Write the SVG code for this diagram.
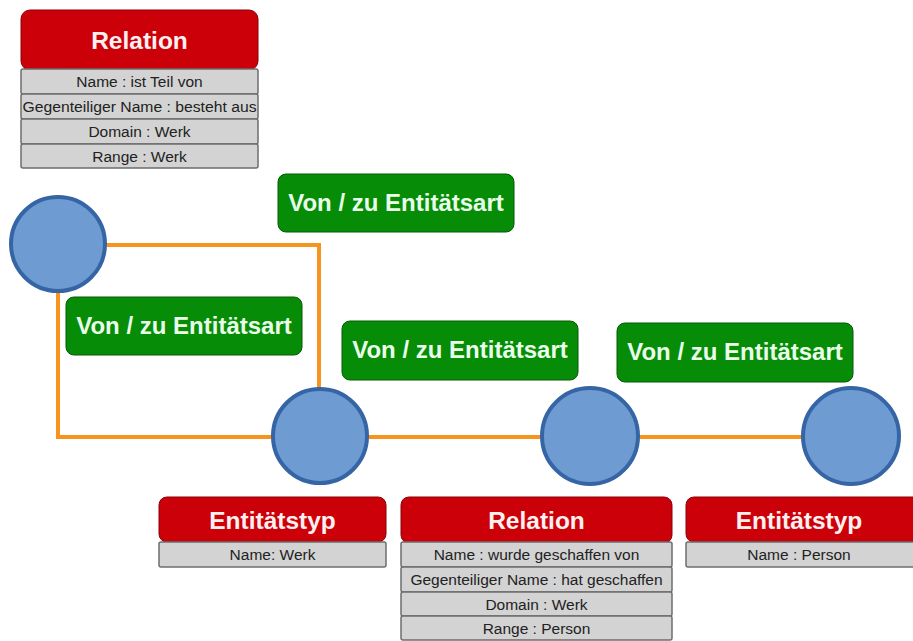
<svg xmlns="http://www.w3.org/2000/svg" width="913" height="641" viewBox="0 0 913 641">
  <style>
    .hdr { fill: #cc0009; stroke: #8a0006; stroke-width: 1; }
    .hdr-t { font-family: "Liberation Sans", Arial, sans-serif; font-weight: bold; font-size: 24.5px; fill: #fff0f0; text-anchor: middle; }
    .row { fill: #d3d3d3; stroke: #6e6e6e; stroke-width: 1.5; }
    .row-t { font-family: "Liberation Sans", Arial, sans-serif; font-size: 15.5px; fill: #222; text-anchor: middle; }
    .lbl { fill: #068c06; stroke: #045a04; stroke-width: 1; }
    .lbl-t { font-family: "Liberation Sans", Arial, sans-serif; font-weight: bold; font-size: 24px; fill: #eaffea; text-anchor: middle; }
    .node { fill: #6f9bd3; stroke: #3565a5; stroke-width: 4; }
    .edge { fill: none; stroke: #f7941d; stroke-width: 4; }
  </style>

  <!-- connectors -->
  <g id="connectors">
    <polyline class="edge" points="106,245 319,245 319,388"/>
    <polyline class="edge" points="58,292 58,437 272,437"/>
    <line class="edge" x1="368" y1="437" x2="541" y2="437"/>
    <line class="edge" x1="639" y1="437" x2="802" y2="437"/>
  </g>

  <!-- entity nodes -->
  <g id="node-1"><circle class="node" cx="58" cy="244" r="47"/></g>
  <g id="node-2"><circle class="node" cx="320" cy="436" r="47"/></g>
  <g id="node-3"><circle class="node" cx="590" cy="436" r="48"/></g>
  <g id="node-4"><circle class="node" cx="851" cy="436" r="48"/></g>

  <!-- direction labels -->
  <g id="label-1">
    <rect class="lbl" x="278" y="174" width="236" height="58" rx="8"/>
    <text class="lbl-t" x="396" y="211">Von / zu Entitätsart</text>
  </g>
  <g id="label-2">
    <rect class="lbl" x="66" y="297" width="236" height="58" rx="8"/>
    <text class="lbl-t" x="184" y="334">Von / zu Entitätsart</text>
  </g>
  <g id="label-3">
    <rect class="lbl" x="342" y="321" width="236" height="59" rx="8"/>
    <text class="lbl-t" x="460" y="358">Von / zu Entitätsart</text>
  </g>
  <g id="label-4">
    <rect class="lbl" x="617" y="323" width="236" height="59" rx="8"/>
    <text class="lbl-t" x="735" y="360">Von / zu Entitätsart</text>
  </g>

  <!-- relation card: ist Teil von -->
  <g id="relation-top">
    <rect class="hdr" x="21" y="10" width="237" height="60" rx="9"/>
    <text class="hdr-t" x="139.5" y="48.5">Relation</text>
    <rect class="row" x="21" y="69" width="237" height="25" rx="2"/>
    <text class="row-t" x="139.5" y="87">Name : ist Teil von</text>
    <rect class="row" x="21" y="94" width="237" height="25" rx="2"/>
    <text class="row-t" x="139.5" y="112" textLength="234" lengthAdjust="spacingAndGlyphs">Gegenteiliger Name : besteht aus</text>
    <rect class="row" x="21" y="119" width="237" height="25" rx="2"/>
    <text class="row-t" x="139.5" y="137">Domain : Werk</text>
    <rect class="row" x="21" y="144" width="237" height="24" rx="2"/>
    <text class="row-t" x="139.5" y="161.5">Range : Werk</text>
  </g>

  <!-- entity type card: Werk -->
  <g id="entity-werk">
    <rect class="hdr" x="159" y="497" width="227" height="45" rx="8"/>
    <text class="hdr-t" x="272.5" y="528.5">Entitätstyp</text>
    <rect class="row" x="159" y="542" width="227" height="25" rx="2"/>
    <text class="row-t" x="272.5" y="560">Name: Werk</text>
  </g>

  <!-- relation card: wurde geschaffen von -->
  <g id="relation-bottom">
    <rect class="hdr" x="401" y="497" width="271" height="46" rx="8"/>
    <text class="hdr-t" x="536.5" y="528.5">Relation</text>
    <rect class="row" x="401" y="542" width="271" height="25" rx="2"/>
    <text class="row-t" x="536.5" y="560">Name : wurde geschaffen von</text>
    <rect class="row" x="401" y="567" width="271" height="25" rx="2"/>
    <text class="row-t" x="536.5" y="585">Gegenteiliger Name : hat geschaffen</text>
    <rect class="row" x="401" y="592" width="271" height="24" rx="2"/>
    <text class="row-t" x="536.5" y="609.5">Domain : Werk</text>
    <rect class="row" x="401" y="616" width="271" height="24" rx="2"/>
    <text class="row-t" x="536.5" y="633.5">Range : Person</text>
  </g>

  <!-- entity type card: Person -->
  <g id="entity-person">
    <rect class="hdr" x="686" y="497" width="236" height="45" rx="8"/>
    <text class="hdr-t" x="799" y="528.5">Entitätstyp</text>
    <rect class="row" x="686" y="542" width="236" height="25" rx="2"/>
    <text class="row-t" x="799" y="560">Name : Person</text>
  </g>
</svg>
